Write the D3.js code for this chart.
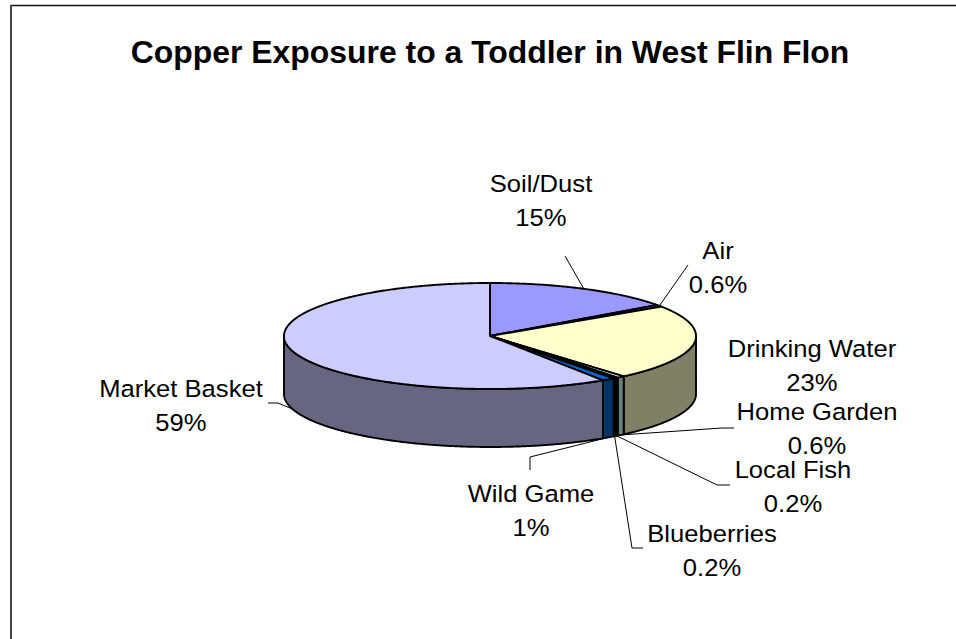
<!DOCTYPE html>
<html>
<head>
<meta charset="utf-8">
<script src="https://cdn.jsdelivr.net/npm/d3@7/dist/d3.min.js"></script>
<style>
  html, body { margin: 0; padding: 0; background: #fff; }
  svg { display: block; }
  text { font-family: "Liberation Sans", Arial, sans-serif; fill: #000; }
</style>
</head>
<body>
<svg id="chart" width="956" height="639"></svg>
<script>
// Copper exposure sources, clockwise from 12 o'clock
const categories = ["Soil/Dust", "Air", "Drinking Water", "Home Garden", "Local Fish", "Blueberries", "Wild Game", "Market Basket"];
const values = [15, 0.6, 23, 0.6, 0.2, 0.2, 1, 59];
const valueLabels = ["15%", "0.6%", "23%", "0.6%", "0.2%", "0.2%", "1%", "59%"];
const topColors = ["#9999FF", "#993366", "#FFFFCC", "#CCFFFF", "#660066", "#FF8080", "#0066CC", "#CCCCFF"];
const chartTitle = "Copper Exposure to a Toddler in West Flin Flon";

const svg = d3.select("#chart");
const W = 956, H = 639;

// chart frame (cropped on the right and bottom)
svg.append("line").attr("x1", 10).attr("y1", 5.5).attr("x2", W).attr("y2", 5.5)
  .attr("stroke", "#111").attr("stroke-width", 1.5);
svg.append("line").attr("x1", 11).attr("y1", 5).attr("x2", 11).attr("y2", H)
  .attr("stroke", "#444").attr("stroke-width", 2);

// title
svg.append("text")
  .attr("transform", "translate(490,63) scale(1.03,1)")
  .attr("text-anchor", "middle")
  .attr("font-size", 31)
  .attr("font-weight", "bold")
  .text(chartTitle);

// 3D pie geometry
const cx = 490, cy = 336, rx = 206, ry = 53, depth = 58;
const proj = (a, dz) => [cx + rx * Math.sin(a), cy - ry * Math.cos(a) + dz];

const color = d3.scaleOrdinal().domain(categories).range(topColors);
const sideColor = c => {
  const k = d3.rgb(c);
  return d3.rgb(k.r * 0.5, k.g * 0.5, k.b * 0.5).formatHex();
};

const pie = d3.pie().sort(null).value(d => d.value);
const arcs = pie(categories.map((c, i) => ({ name: c, value: values[i], label: valueLabels[i] })));

const line = d3.line();
const arcPoints = (a0, a1, dz) => {
  const n = Math.max(2, Math.ceil((a1 - a0) / (Math.PI / 360)));
  return d3.range(n + 1).map(i => proj(a0 + (a1 - a0) * i / n, dz));
};

const g = svg.append("g");

// side walls, only the front half (90°..270°) is visible
arcs.forEach(d => {
  const s = Math.max(d.startAngle, Math.PI / 2);
  const e = Math.min(d.endAngle, 3 * Math.PI / 2);
  if (e <= s) return;
  const pts = arcPoints(s, e, 0).concat(arcPoints(s, e, depth).reverse());
  g.append("path")
    .attr("d", line(pts) + "Z")
    .attr("fill", sideColor(color(d.data.name)))
    .attr("stroke", "#000")
    .attr("stroke-width", 1.9)
    .attr("stroke-linejoin", "round");
});

// top faces
arcs.forEach(d => {
  const pts = [[cx, cy]].concat(arcPoints(d.startAngle, d.endAngle, 0));
  g.append("path")
    .attr("d", line(pts) + "Z")
    .attr("fill", color(d.data.name))
    .attr("stroke", "#000")
    .attr("stroke-width", 1.9)
    .attr("stroke-linejoin", "round");
});

// label placement: text centre x, first baseline y, leader elbow points
const labelLayout = {
  "Soil/Dust":      { x: 541, y: 192, leader: [[565, 256]] },
  "Air":            { x: 718, y: 259, leader: [[688, 265]] },
  "Drinking Water": { x: 812, y: 357, leader: null },
  "Home Garden":    { x: 817, y: 420, leader: [[722, 428], [734, 428]] },
  "Local Fish":     { x: 793, y: 478, leader: [[717, 485], [730, 485]] },
  "Blueberries":    { x: 712, y: 542, leader: [[632, 548], [643, 548]] },
  "Wild Game":      { x: 531, y: 502, leader: [[530, 457], [530, 470]] },
  "Market Basket":  { x: 181, y: 397, leader: [[278, 403], [268, 403]] }
};

arcs.forEach(d => {
  const L = labelLayout[d.data.name];
  const mid = (d.startAngle + d.endAngle) / 2;
  const front = mid > Math.PI / 2 && mid < 3 * Math.PI / 2;
  if (L.leader) {
    const start = proj(mid, front ? depth : 0);
    svg.append("path")
      .attr("d", line([start].concat(L.leader)))
      .attr("fill", "none")
      .attr("stroke", "#000")
      .attr("stroke-width", 1);
  }
  const t = svg.append("g").attr("transform", `translate(${L.x},${L.y}) scale(1.09,1)`);
  t.append("text").attr("text-anchor", "middle").attr("font-size", 23.5).text(d.data.name);
  t.append("text").attr("text-anchor", "middle").attr("font-size", 23.5).attr("y", 34).text(d.data.label);
});
</script>
</body>
</html>
